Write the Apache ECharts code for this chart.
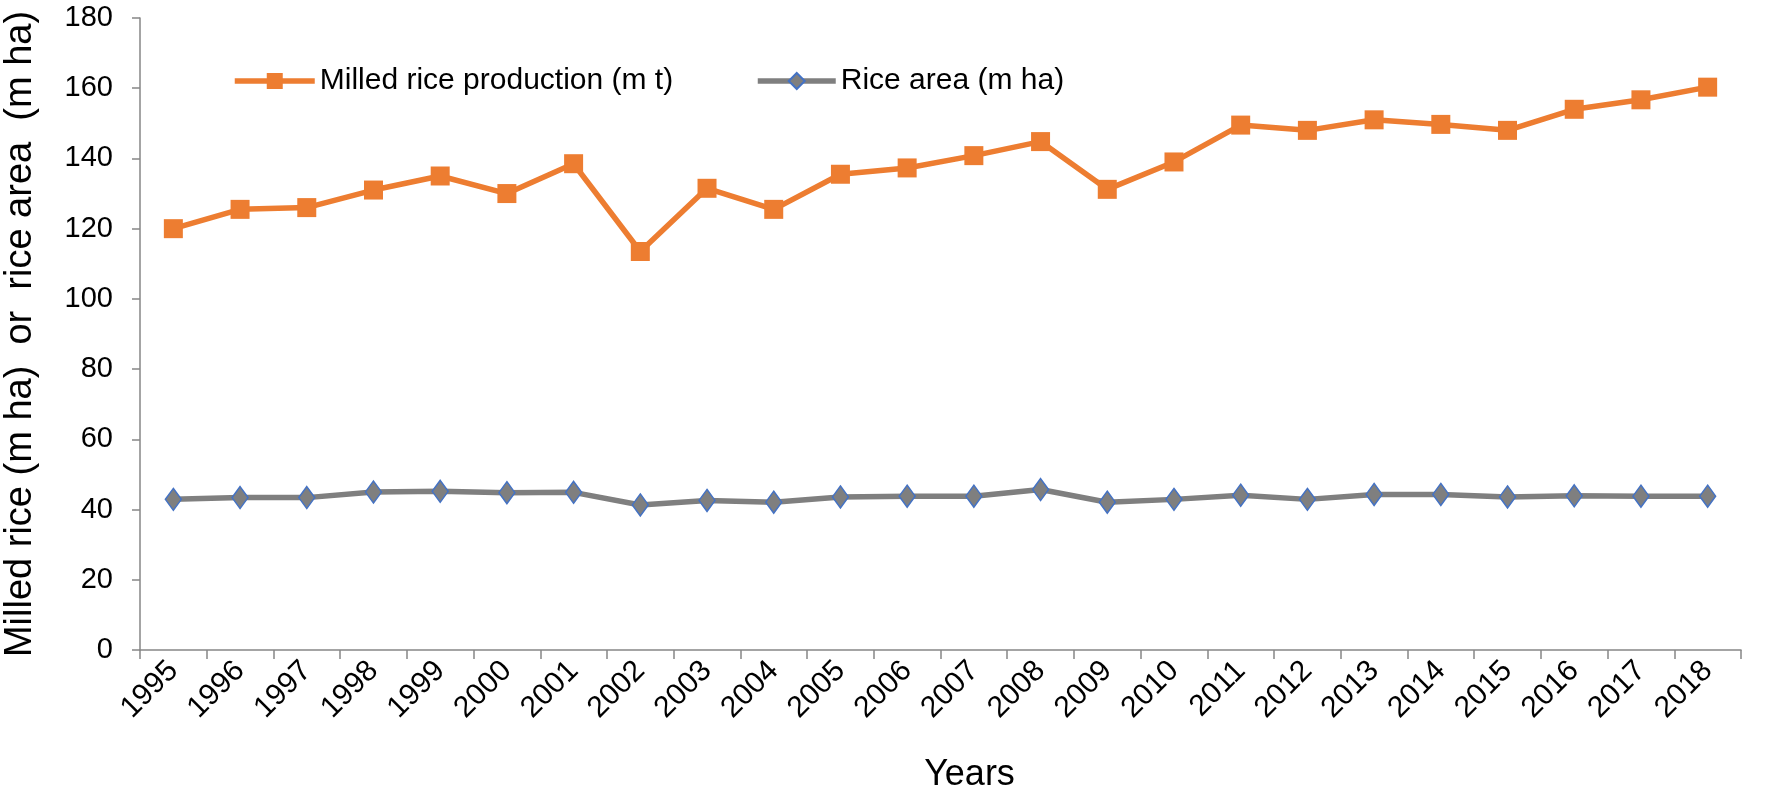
<!DOCTYPE html>
<html><head><meta charset="utf-8">
<script src="https://cdn.jsdelivr.net/npm/echarts@6/dist/echarts.min.js"></script>
<style>html,body{margin:0;padding:0;background:#fff}#c{width:1773px;height:795px}</style>
</head><body><div id="c"></div>
<script>
const years = ['1995','1996','1997','1998','1999','2000','2001','2002','2003','2004','2005','2006','2007','2008','2009','2010','2011','2012','2013','2014','2015','2016','2017','2018'];
const milledRice = [120,125.5,126,131,135,130,138.5,113.5,131.5,125.5,135.5,137.3,140.8,144.8,131.2,139,149.5,148,151,149.7,148,154,156.7,160.3];
const riceArea = [42.9,43.4,43.4,45,45.2,44.8,44.9,41.3,42.6,42.1,43.6,43.8,43.8,45.7,42.1,42.9,44.1,42.9,44.3,44.3,43.6,43.9,43.8,43.8];
const yTicks = {min:0, max:180, interval:20};
const nameMilled = 'Milled rice production (m t)';
const nameArea = 'Rice area (m ha)';
const yTitle = 'Milled rice (m ha)  or  rice area  (m ha)';
const xTitle = 'Years';

const font = '"Liberation Sans",Arial,sans-serif';
const chart = echarts.init(document.getElementById('c'));
chart.setOption({
  animation:false,
  backgroundColor:'#fff',
  grid:{left:140,right:32,top:18,bottom:145,containLabel:false,outerBoundsMode:'none'},
  legend:[{
    left:227, top:61, itemWidth:80, itemHeight:20,
    data:[{name:nameMilled}],
    lineStyle:{width:5.5},
    textStyle:{fontFamily:font,fontSize:30,color:'#000'}
  },{
    left:750, top:61, itemWidth:78, itemHeight:20,
    data:[{name:nameArea}],
    lineStyle:{width:5.5},
    textStyle:{fontFamily:font,fontSize:30,color:'#000'}
  }],
  xAxis:{
    type:'category', data:years, boundaryGap:true,
    name:xTitle, nameLocation:'middle', nameGap:107,
    nameTextStyle:{fontFamily:font,fontSize:36,color:'#000',padding:[0,0,0,58]},
    axisLine:{lineStyle:{color:'#868686',width:1.5}},
    axisTick:{show:true,alignWithLabel:false,length:9,lineStyle:{color:'#868686',width:1.5}},
    axisLabel:{rotate:45,fontFamily:font,fontSize:30,color:'#000',margin:16,interval:0},
    splitLine:{show:false}
  },
  yAxis:{
    type:'value', min:yTicks.min, max:yTicks.max, interval:yTicks.interval,
    name:yTitle, nameLocation:'middle', nameGap:100,
    nameTextStyle:{fontFamily:font,fontSize:38,color:'#000'},
    axisLine:{show:true,lineStyle:{color:'#868686',width:1.5}},
    axisTick:{show:true,length:8,lineStyle:{color:'#868686',width:1.5}},
    axisLabel:{fontFamily:font,fontSize:29,color:'#000',margin:27},
    splitLine:{show:false}
  },
  series:[{
    name:nameMilled, type:'line', data:milledRice,
    symbol:'rect', symbolSize:19,
    lineStyle:{color:'#ED7D31',width:5.5},
    itemStyle:{color:'#ED7D31',borderColor:'#ED7D31',borderWidth:0}
  },{
    name:nameArea, type:'line', data:riceArea,
    symbol:'diamond', symbolSize:[16,22],
    lineStyle:{color:'#7F7F7F',width:5.5},
    itemStyle:{color:'#7F7F7F',borderColor:'#4472C4',borderWidth:1.5}
  }]
});
</script></body></html>
